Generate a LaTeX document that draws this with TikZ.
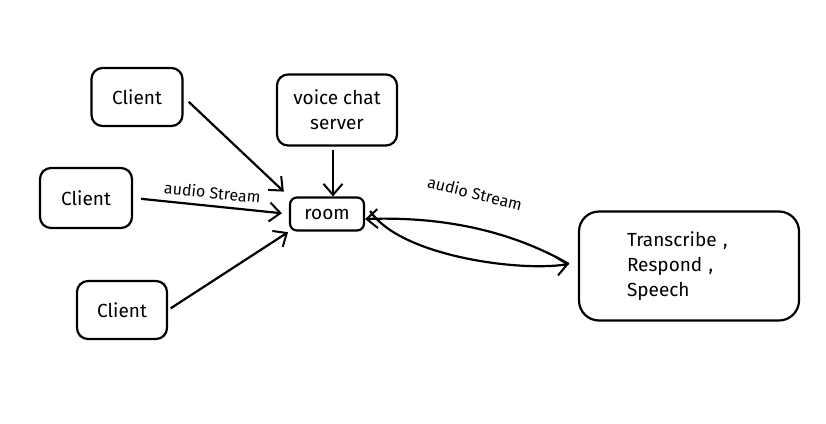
\documentclass[tikz,border=0pt]{standalone}
\usepackage{fontspec}
\setmainfont{Fira Sans}
\usetikzlibrary{arrows.meta}

\tikzset{
    box/.style={draw, line width=2.2pt, rounded corners=11pt, font=\fontsize{19}{25}\selectfont},
    lbl/.style={font=\fontsize{16}{18}\selectfont}
}

\begin{document}
\begin{tikzpicture}[x=1pt, y=-1pt, line width=2.2pt, >={Straight Barb[length=11pt,width=19pt,line width=2pt]}]
    \useasboundingbox (0,0) rectangle (826,423);
    % Nodes {clients, server, room, worker}
    \node [box, minimum width=91pt, minimum height=58pt]  (c1)  at (137,97)  {Client};
    \node [box, minimum width=92pt, minimum height=60pt]  (c2)  at (86,198)  {Client};
    \node [box, minimum width=90pt, minimum height=58pt]  (c3)  at (122,310) {Client};
    \node [box, minimum width=120pt, minimum height=71pt, align=center] (srv) at (337,110) {voice chat\\server};
    \node [box, minimum width=74pt, minimum height=33pt, rounded corners=7pt] (room) at (327,214) {room};
    \node [box, minimum width=220pt, minimum height=109pt, text width=124pt, inner xsep=48pt, align=left, rounded corners=20pt] (work) at (689,266) {Transcribe ,\\Respond ,\\Speech};

    % Paths
    \path [->] 	(c1.east)  edge [shorten <=7pt, shorten >=7pt]  (room.north west);
    \path [->] 	(c2.east)  edge [shorten <=8pt, shorten >=7pt]  node [lbl, sloped, above=3pt] {audio Stream} (room.west);
    \path [->] 	(c3.east)  edge [shorten <=3pt, shorten >=1pt]  (room.south west);
    \path [->] 	(srv.south) ++(-4,3) coordinate (s1) edge (s1 |- room.north) ++(0,-5);
    \coordinate (w1) at ([xshift=-9pt, yshift=2pt]work.west);
    \draw [->] 	(w1) .. controls +(-70,-40) and +(60,-2) .. ([yshift=-5pt]room.east);
    \draw [->] 	([xshift=5pt, yshift=3pt]room.east) .. controls +(30,45) and +(-50,8) .. (w1);
    \node [lbl, rotate=-14] (as2) at (475,193) {audio Stream};
\end{tikzpicture}
\end{document}
